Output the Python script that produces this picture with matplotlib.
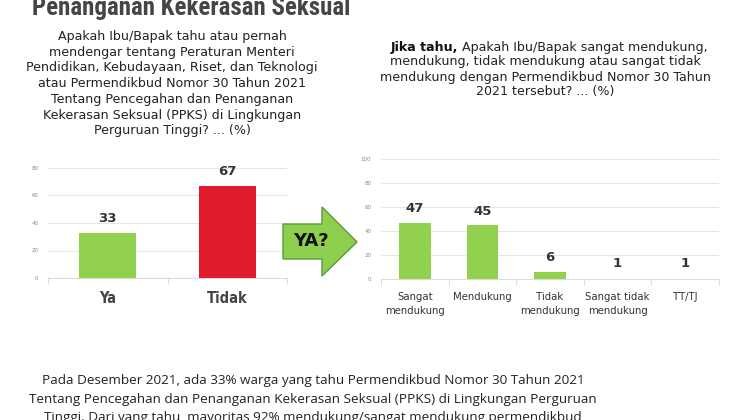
import matplotlib
matplotlib.use("Agg")
import matplotlib.pyplot as plt
from matplotlib.patches import Polygon
from matplotlib import font_manager
from matplotlib.font_manager import FontProperties
import numpy as np

plt.rcParams['font.family'] = ['DejaVu Sans']

# ---- data ----
left_categories = ["Ya", "Tidak"]
left_values = [33, 67]
left_colors = ["#92d050", "#e01b2b"]
left_yticks = [0, 20, 40, 60, 80]

right_categories = ["Sangat\nmendukung", "Mendukung", "Tidak\nmendukung",
                    "Sangat tidak\nmendukung", "TT/TJ"]
right_values = [47, 45, 6, 1, 1]
right_bar_values = [47, 45, 6, 0, 0]
right_yticks = [0, 20, 40, 60, 80, 100]

title = "Penanganan Kekerasan Seksual"
left_question = ("Apakah Ibu/Bapak tahu atau pernah\nmendengar tentang Peraturan Menteri\n"
                 "Pendidikan, Kebudayaan, Riset, dan Teknologi\natau Permendikbud Nomor 30 Tahun 2021\n"
                 "Tentang Pencegahan dan Penanganan\nKekerasan Seksual (PPKS) di Lingkungan\n"
                 "Perguruan Tinggi? ... (%)")
right_q_bold = "Jika tahu,"
right_q_rest = " Apakah Ibu/Bapak sangat mendukung,"
right_q_lines = ["mendukung, tidak mendukung atau sangat tidak",
                 "mendukung dengan Permendikbud Nomor 30 Tahun",
                 "2021 tersebut? ... (%)"]
bottom_text = ("Pada Desember 2021, ada 33% warga yang tahu Permendikbud Nomor 30 Tahun 2021\n"
               "Tentang Pencegahan dan Penanganan Kekerasan Seksual (PPKS) di Lingkungan Perguruan\n"
               "Tinggi. Dari yang tahu, mayoritas 92% mendukung/sangat mendukung permendikbud")

W, H = 750, 420
fig = plt.figure(figsize=(7.5, 4.2), dpi=100)
fig.patch.set_facecolor("white")


def fx(px):
    return px / W


def fy(py):
    return 1 - py / H


def fit_width(t, target_px):
    fig.canvas.draw()
    w = t.get_window_extent().width
    t.set_fontsize(t.get_fontsize() * target_px / w)


def find_font(endings, size, fallback_weight="bold"):
    for end in endings:
        for f in font_manager.fontManager.ttflist:
            if f.fname.endswith(end):
                return FontProperties(fname=f.fname, size=size)
    return FontProperties(family="DejaVu Sans", weight=fallback_weight, size=size)


def cond_bold(size):
    return find_font(["DejaVuSansCondensed-Bold.ttf"], size)


def title_font(size):
    return find_font(["RobotoCondensed-Bold.ttf", "RobotoCondensed-SemiBold.ttf",
                      "DejaVuSansCondensed-Bold.ttf"], size)


# ---- title (cut off at top) ----
tt = fig.text(fx(32), fy(15), title, color="#454545",
              ha="left", va="baseline", fontproperties=title_font(18))
fit_width(tt, 318)

# ---- questions ----
fig.text(fx(172), fy(30), left_question, fontsize=9.1, color="#222222",
         ha="center", va="top", linespacing=1.27)

t1 = fig.text(fx(545), fy(47), right_q_bold + right_q_rest, fontsize=9.1,
              color="white", ha="center", va="center")
fig.canvas.draw()
bb = t1.get_window_extent()
x_start = bb.x0
t1.remove()
tb = fig.text(x_start / W, fy(47), right_q_bold, fontsize=9.1, color="#111111",
              ha="left", va="center", fontweight="bold")
fig.canvas.draw()
bb2 = tb.get_window_extent()
fig.text(bb2.x1 / W, fy(47), right_q_rest, fontsize=9.1, color="#222222",
         ha="left", va="center")
for i, line in enumerate(right_q_lines):
    fig.text(fx(545), fy(62 + 15 * i), line, fontsize=9.1, color="#222222",
             ha="center", va="center")


# ---- axes styling helper ----
def style(ax, yticks, ncat):
    ax.set_ylim(yticks[0], yticks[-1])
    ax.set_yticks(yticks)
    ax.set_yticklabels([str(t) for t in yticks], fontsize=4, color="#888888")
    ax.grid(axis="y", color="#e6e6e6", linewidth=0.8)
    ax.set_axisbelow(True)
    for s in ["top", "right", "left"]:
        ax.spines[s].set_visible(False)
    ax.spines["bottom"].set_color("#dddddd")
    ax.tick_params(axis="y", length=0, pad=7)
    ax.set_xlim(-0.5, ncat - 0.5)
    ax.set_xticks(np.arange(-0.5, ncat + 0.5, 1))
    ax.set_xticklabels([""] * (ncat + 1))
    ax.tick_params(axis="x", length=4, color="#dddddd")


# ---- left chart ----
axL = fig.add_axes([fx(48), fy(278), fx(287 - 48), (278 - 168) / H])
style(axL, left_yticks, len(left_categories))
xl = np.arange(len(left_categories))
axL.bar(xl, left_values, width=0.48, color=left_colors, zorder=3)
for x, v, c in zip(xl, left_values, left_categories):
    axL.annotate(str(v), (x, v), xytext=(0, 10.5), textcoords="offset points",
                 ha="center", va="center", fontsize=9.5, fontweight="bold",
                 color="#333333")
    axL.annotate(c, (x, 0), xytext=(0, -14.5), textcoords="offset points",
                 ha="center", va="center", color="#444444",
                 fontproperties=cond_bold(10.5))

# ---- right chart ----
axR = fig.add_axes([fx(381), fy(279), fx(719 - 381), (279 - 159) / H])
style(axR, right_yticks, len(right_categories))
xr = np.arange(len(right_categories))
axR.bar(xr, right_bar_values, width=0.47, color="#92d050", zorder=3)
for x, v, c in zip(xr, right_values, right_categories):
    axR.annotate(str(v), (x, v), xytext=(0, 10), textcoords="offset points",
                 ha="center", va="center", fontsize=9.5, fontweight="bold",
                 color="#333333")
    axR.annotate(c, (x, 0), xytext=(0, -9), textcoords="offset points",
                 ha="center", va="top", fontsize=7.3, color="#333333",
                 linespacing=1.6)

# ---- arrow ----
pts_px = [(283, 224), (322, 224), (322, 207), (357, 242), (322, 276),
          (322, 259), (283, 259)]
pts = [(fx(x), fy(y)) for x, y in pts_px]
fig.patches.append(Polygon(pts, closed=True, transform=fig.transFigure,
                           facecolor="#8fcf4f", edgecolor="#5a9a3a", linewidth=1.0))
fig.text(fx(311), fy(241), "YA?", ha="center", va="center", fontsize=13,
         fontweight="bold", color="#111111")

# ---- bottom text ----
bt = fig.text(fx(313), fy(374), bottom_text, ha="center", va="top", fontsize=10.8,
              color="#222222", linespacing=1.57, family=["Open Sans", "DejaVu Sans"])
fit_width(bt, 568)

fig.savefig("out.png", dpi=100)
